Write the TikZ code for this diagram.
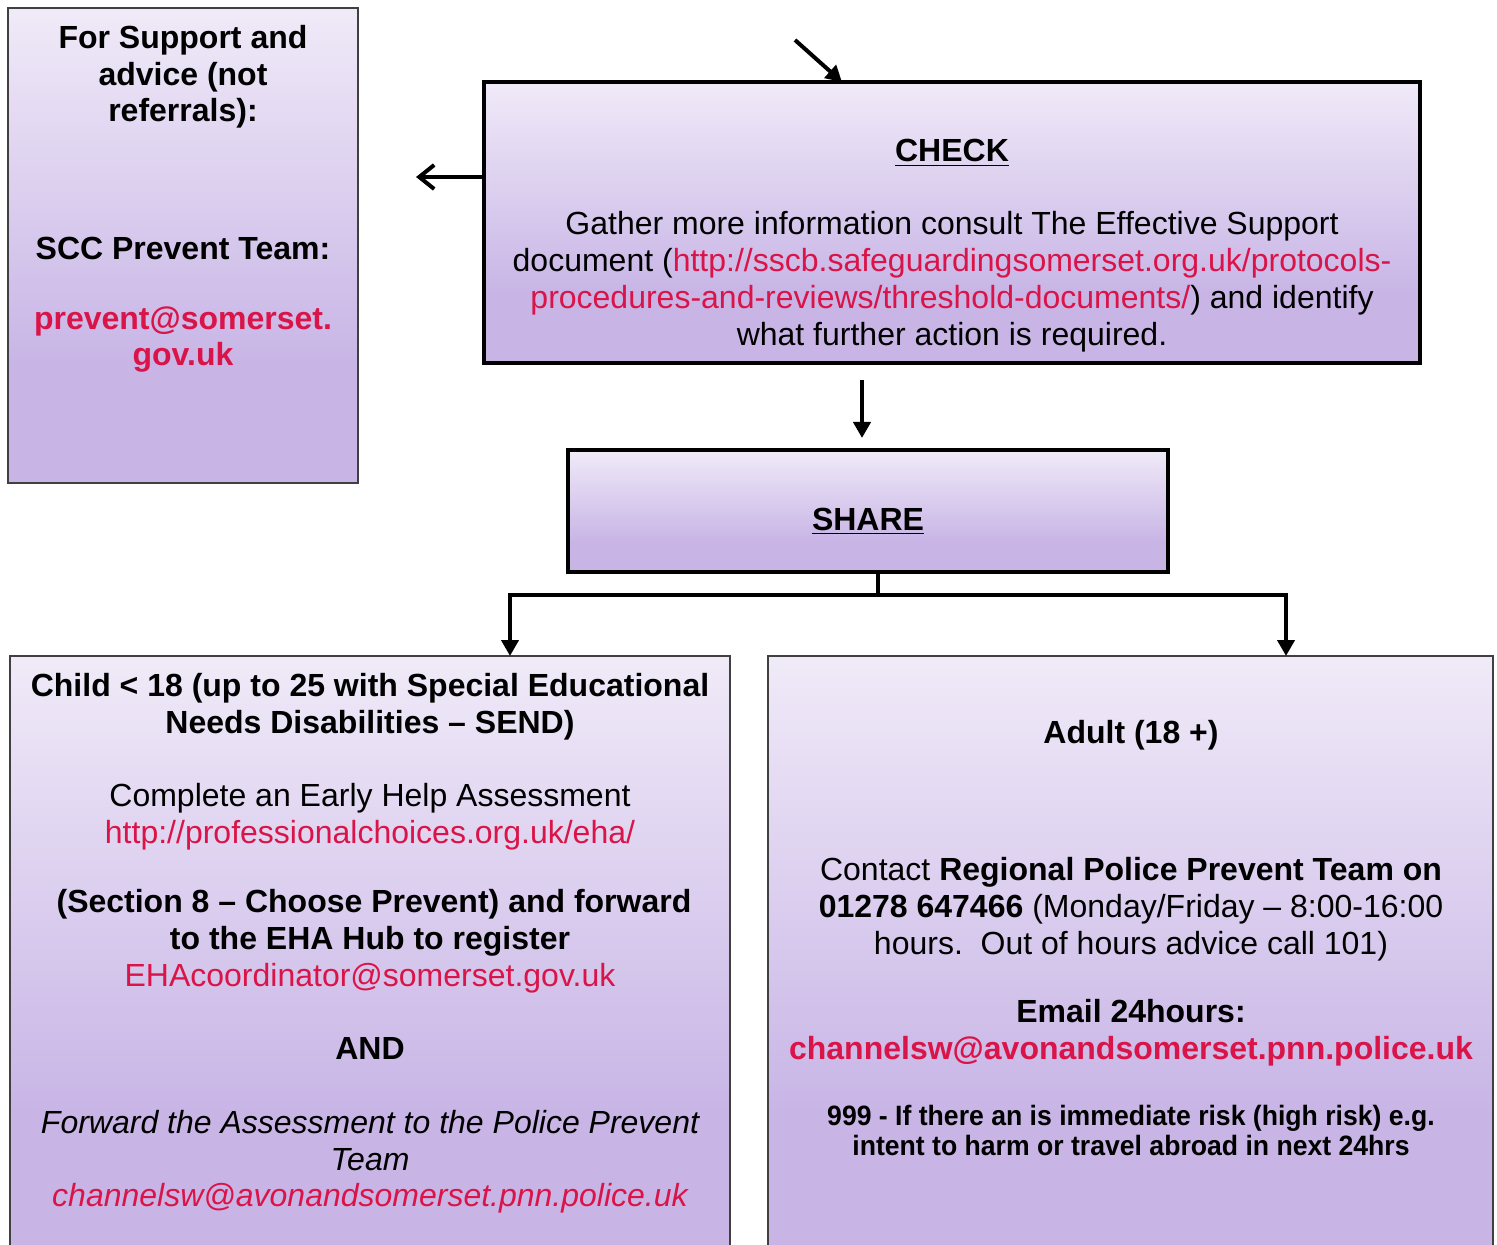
\documentclass[tikz,border=0pt]{standalone}
\usepackage{fontspec}
\setmainfont{Liberation Sans}
\newfontfamily\narrowb[FakeStretch=0.95]{Liberation Sans Bold}
\usetikzlibrary{arrows.meta}
\definecolor{lavl}{RGB}{240,234,248}
\definecolor{lavd}{RGB}{200,181,230}
\definecolor{lnk}{RGB}{218,20,72}
\pgfdeclareverticalshading{lavshade}{100bp}{color(0bp)=(lavd); color(37.5bp)=(lavd); color(75bp)=(lavl); color(100bp)=(lavl)}
\newcommand\fsn{\fontsize{16pt}{18.5pt}\selectfont}
\tikzset{
  thinbox/.style={draw=black!75, line width=0.6pt, shade, shading=lavshade, inner sep=0pt, outer sep=0pt},
  thickbox/.style={draw=black, line width=2pt, shade, shading=lavshade, inner sep=0pt, outer sep=0pt},
  conn/.style={draw=black, line width=2pt, line join=miter, -{Triangle[length=8pt,width=8.5pt]}},
  openconn/.style={draw=black, line width=2pt, -{Straight Barb[length=7.5pt,width=12pt]}},
  plain/.style={draw=black, line width=2pt, line join=miter},
  ln/.style={anchor=base, inner sep=0pt, font=\fsn},
  bl/.style={anchor=base, inner sep=0pt, font=\fsn\bfseries},
  it/.style={anchor=base, inner sep=0pt, font=\fsn\itshape},
  nb/.style={anchor=base, inner sep=0pt, font=\fontsize{14pt}{15.5pt}\narrowb},
}
\begin{document}
\begin{tikzpicture}[x=0.5pt,y=-0.5pt]
\useasboundingbox (0,0) rectangle (1497,1245);
% boxes
\node[thinbox, minimum width=175pt, minimum height=237.5pt] (support) at (183,245.5) {};
\node[thickbox, minimum width=468pt, minimum height=140.5pt] (check) at (952,222.5) {};
\node[thickbox, minimum width=300pt, minimum height=61pt] (share) at (868,511) {};
\node[thinbox, minimum width=360pt, minimum height=304.5pt] (child) at (370,960.5) {};
\node[thinbox, minimum width=362.5pt, minimum height=304.5pt] (adult) at (1130.5,960.5) {};
% connectors
\coordinate (la) at (416,177);
\draw[openconn] (check.west |- la) -- (la);
\coordinate (ta) at (795,40);
\coordinate (tb) at (842,0);
\draw[conn] (ta) -- (check.north -| tb);
\coordinate (da) at (862,380);
\draw[conn, shorten >=6pt] (da) -- (share.north -| da);
\coordinate (sj) at (878,595);
\coordinate (lx) at (510,0);
\coordinate (rx) at (1286,0);
\draw[plain] (share.south -| sj) -- (sj);
\draw[conn] (sj) -| (child.north -| lx);
\draw[conn] (sj) -| (adult.north -| rx);
% support texts
\node[bl] (s1) at (183,49) {For Support and};
\node[bl] (s2) at (183,86) {advice (not};
\node[bl] (s3) at (183,122) {referrals):};
\node[bl] (s4) at (183,260) {SCC Prevent Team:};
\node[bl, text=lnk] (s5) at (183,330) {prevent@somerset.};
\node[bl, text=lnk] (s6) at (183,366) {gov.uk};
% check texts
\node[bl] (c0) at (952,162) {\underline{CHECK}};
\node[ln] (c1) at (952,235) {Gather more information consult The Effective Support};
\node[ln] (c2) at (952,272) {document (\textcolor{lnk}{http://sscb.safeguardingsomerset.org.uk/protocols-}};
\node[ln] (c3) at (952,309) {\textcolor{lnk}{procedures-and-reviews/threshold-documents/}) and identify};
\node[ln] (c4) at (952,346) {what further action is required.};
% share
\node[bl] (sh) at (868,530) {\underline{SHARE}};
% child texts
\node[bl] (k1) at (370,696) {Child < 18 (up to 25 with Special Educational};
\node[bl] (k2) at (370,733) {Needs Disabilities – SEND)};
\node[ln] (k3) at (370,806) {Complete an Early Help Assessment};
\node[ln, text=lnk] (k4) at (370,843) {http://professionalchoices.org.uk/eha/};
\node[bl] (k5) at (374,912) {(Section 8 – Choose Prevent) and forward};
\node[bl] (k6) at (370,949) {to the EHA Hub to register};
\node[ln, text=lnk] (k7) at (370,986) {EHAcoordinator@somerset.gov.uk};
\node[bl] (k8) at (370,1059) {AND};
\node[it] (k9) at (370,1133) {Forward the Assessment to the Police Prevent};
\node[it] (k10) at (370,1170) {Team};
\node[it, text=lnk] (k11) at (370,1206) {channelsw@avonandsomerset.pnn.police.uk};
% adult texts
\node[bl] (a1) at (1131,743) {Adult (18 +)};
\node[ln] (a2) at (1131,880) {Contact \textbf{Regional Police Prevent Team on}};
\node[ln] (a3) at (1131,917) {\textbf{01278 647466} (Monday/Friday – 8:00-16:00};
\node[ln] (a4) at (1131,954) {hours.\ \ Out of hours advice call 101)};
\node[bl] (a5) at (1131,1022) {Email 24hours:};
\node[bl, text=lnk] (a6) at (1131,1059) {channelsw@avonandsomerset.pnn.police.uk};
\node[nb] (a7) at (1131,1125) {999 - If there an is immediate risk (high risk) e.g.};
\node[nb] (a8) at (1131,1155) {intent to harm or travel abroad in next 24hrs};
\end{tikzpicture}
\end{document}
